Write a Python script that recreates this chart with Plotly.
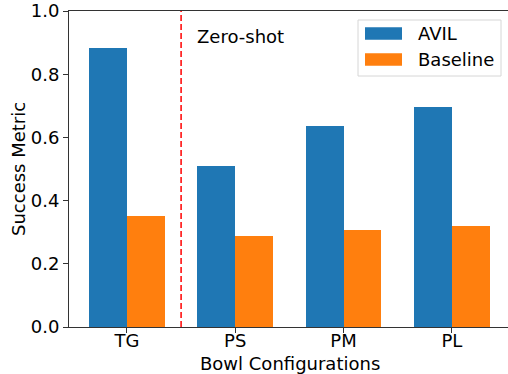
import plotly.graph_objects as go

categories = ["TG", "PS", "PM", "PL"]
avil = [0.884, 0.510, 0.636, 0.697]
baseline = [0.351, 0.288, 0.308, 0.321]
series_names = ["AVIL", "Baseline"]
yticks = [0.0, 0.2, 0.4, 0.6, 0.8, 1.0]

W, H = 508, 374
L, R, T, B = 69, 0, 11, 47
pw, ph = W - L - R, H - T - B

def px(x):
    return (x - L) / pw

def py(y):
    return (H - B - y) / ph

FONT = "DejaVu Sans"
FS = 18
blue, orange = "#1f77b4", "#ff7f0e"
xpos = list(range(len(categories)))

fig = go.Figure()
fig.add_trace(go.Bar(x=xpos, y=avil, width=0.35, offset=-0.35, marker_color=blue,
                     marker_line_width=0, name=series_names[0], showlegend=False))
fig.add_trace(go.Bar(x=xpos, y=baseline, width=0.35, offset=0.0, marker_color=orange,
                     marker_line_width=0, name=series_names[1], showlegend=False))

# zero-shot divider
fig.add_shape(type="line", x0=0.5, x1=0.5, y0=0, y1=1, xref="x", yref="y",
              line=dict(color="red", width=1.5, dash="6px,3px"))
fig.add_annotation(x=0.628, y=0.918, xref="x", yref="y", text="Zero-shot",
                   showarrow=False, xanchor="left", yanchor="middle",
                   font=dict(family=FONT, size=FS, color="#000"))

# legend (drawn manually, matplotlib style)
fig.add_shape(type="rect", xref="paper", yref="paper",
              x0=px(358), x1=px(501), y0=py(76), y1=py(20),
              line=dict(color="#d6d6d6", width=1), fillcolor="rgba(255,255,255,0.8)")
for i, (name, col) in enumerate(zip(series_names, [blue, orange])):
    yc = 33.5 + 26 * i
    fig.add_shape(type="rect", xref="paper", yref="paper",
                  x0=px(365), x1=px(402), y0=py(yc + 6.3), y1=py(yc - 6.3),
                  line=dict(width=0), fillcolor=col)
    fig.add_annotation(x=px(416), y=py(yc), xref="paper", yref="paper", text=name,
                       showarrow=False, xanchor="left", yanchor="middle",
                       font=dict(family=FONT, size=FS, color="#000"))

# axis titles placed in pixel positions
fig.add_annotation(x=px(290), y=py(363), xref="paper", yref="paper",
                   text="Bowl Configurations", showarrow=False,
                   xanchor="center", yanchor="middle",
                   font=dict(family=FONT, size=FS, color="#000"))
fig.add_annotation(x=px(18), y=py(169), xref="paper", yref="paper",
                   text="Success Metric", showarrow=False, textangle=-90,
                   xanchor="center", yanchor="middle",
                   font=dict(family=FONT, size=FS, color="#000"))

fig.update_layout(
    width=W, height=H,
    margin=dict(l=L, r=R, t=T, b=B, pad=0),
    plot_bgcolor="white", paper_bgcolor="white",
    barmode="overlay", bargap=0,
    font=dict(family=FONT, size=FS, color="#000"),
    xaxis=dict(range=[-0.535, -0.535 + pw / 108.3], tickvals=xpos, ticktext=categories,
               showline=True, linecolor="#333", linewidth=1, mirror=True, automargin=False,
               ticks="outside", ticklen=5, tickcolor="#333", showgrid=False, zeroline=False,
               ticklabelstandoff=-8),
    yaxis=dict(range=[0, 1], tickvals=yticks, ticktext=[f"{v:.1f}" for v in yticks],
               showline=True, linecolor="#333", linewidth=1, mirror=False, automargin=False,
               ticks="outside", ticklen=5, tickcolor="#333", showgrid=False, zeroline=False),
)

fig.write_html("out.html", config={"displayModeBar": False},
               post_script="document.body.style.margin='0';document.body.style.padding='0';")
